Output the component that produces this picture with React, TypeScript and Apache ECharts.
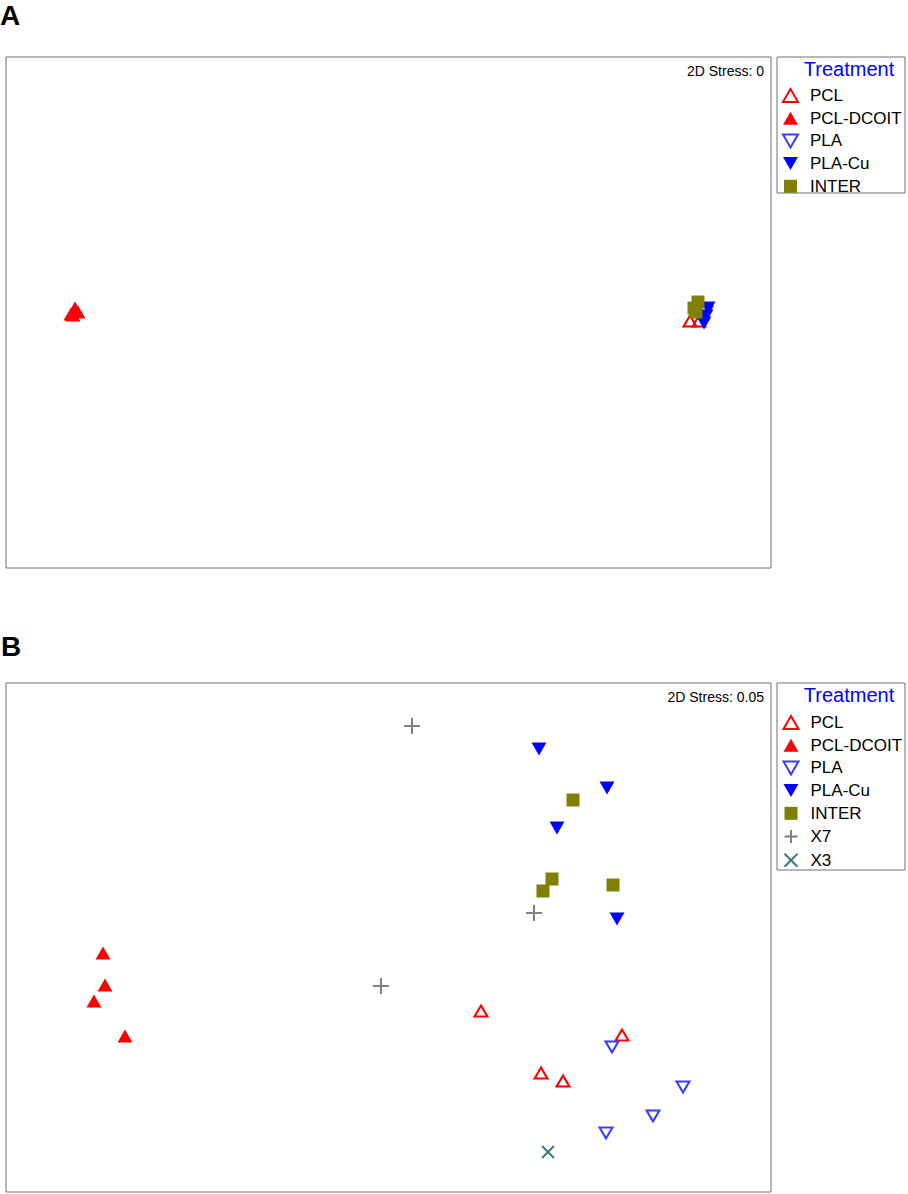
import React, { useEffect, useRef } from "react";
import * as echarts from "echarts";

// ---- Panel A (nMDS coordinates, arbitrary units) ----
const A_PCL: [number, number][] = [[684, 247], [693, 247]];
const A_PCL_DCOIT: [number, number][] = [[69, 260], [65, 254], [72, 256], [67, 253]];
const A_PLA: [number, number][] = [[696, 250], [700, 256]];
const A_PLA_CU: [number, number][] = [[702, 260], [700, 252], [698, 245]];
const A_INTER: [number, number][] = [[692, 266], [688, 260], [690, 256]];
const A_STRESS = "2D Stress: 0";

// ---- Panel B ----
const B_PCL: [number, number][] = [[475, 181], [616, 157], [535, 119], [557, 111]];
const B_PCL_DCOIT: [number, number][] = [[97, 239], [99, 207], [88, 191], [119, 156]];
const B_PLA: [number, number][] = [[606, 145], [677, 105], [647, 76], [600, 59]];
const B_PLA_CU: [number, number][] = [[533, 443], [601, 404], [551, 364], [611, 273]];
const B_INTER: [number, number][] = [[567, 392], [546, 313], [537, 301], [607, 307]];
const B_X7: [number, number][] = [[406, 466], [528, 279], [375, 206]];
const B_X3: [number, number][] = [[542, 40]];
const B_STRESS = "2D Stress: 0.05";

const LEGEND_A = ["PCL", "PCL-DCOIT", "PLA", "PLA-Cu", "INTER"];
const LEGEND_B = ["PCL", "PCL-DCOIT", "PLA", "PLA-Cu", "INTER", "X7", "X3"];

const FONT = 'Arial, "Liberation Sans", Helvetica, sans-serif';
const UP = "path://M7.5,0L15,13L0,13Z";
const DOWN = "path://M0,0L15,0L7.5,13Z";
const PLUS = "path://M0,8L16,8M8,0L8,16";
const CROSS = "path://M0,0L12,12M12,0L0,12";
const SQUARE = "path://M0,0L13,0L13,13L0,13Z";

const styles: Record<string, any> = {
  PCL: {
    symbol: UP,
    symbolSize: [13, 11],
    itemStyle: { color: "rgba(255,255,255,0)", borderColor: "#ff0000", borderWidth: 2, opacity: 1 },
    legend: { icon: UP, itemStyle: { color: "rgba(255,255,255,0)", borderColor: "#ff0000", borderWidth: 2 } },
  },
  "PCL-DCOIT": {
    symbol: UP,
    symbolSize: [15, 13],
    itemStyle: { color: "#ff0000", borderWidth: 0, opacity: 1 },
    legend: { icon: UP, itemStyle: { color: "#ff0000", borderWidth: 0 } },
  },
  PLA: {
    symbol: DOWN,
    symbolSize: [13, 11],
    itemStyle: { color: "rgba(255,255,255,0)", borderColor: "#3c3cff", borderWidth: 2, opacity: 1 },
    legend: { icon: DOWN, itemStyle: { color: "rgba(255,255,255,0)", borderColor: "#3c3cff", borderWidth: 2 } },
  },
  "PLA-Cu": {
    symbol: DOWN,
    symbolSize: [15, 13],
    itemStyle: { color: "#0000ff", borderWidth: 0, opacity: 1 },
    legend: { icon: DOWN, itemStyle: { color: "#0000ff", borderWidth: 0 } },
  },
  INTER: {
    symbol: "rect",
    symbolSize: 13,
    itemStyle: { color: "#808000", borderWidth: 0, opacity: 1 },
    legend: { icon: SQUARE, itemStyle: { color: "#808000", borderWidth: 0 } },
  },
  X7: {
    symbol: PLUS,
    symbolSize: 16,
    itemStyle: { color: "none", borderColor: "#808080", borderWidth: 2, opacity: 1 },
    legend: { icon: PLUS, itemStyle: { color: "none", borderColor: "#808080", borderWidth: 2 } },
  },
  X3: {
    symbol: CROSS,
    symbolSize: 12,
    itemStyle: { color: "none", borderColor: "#3a7a7a", borderWidth: 2, opacity: 1 },
    legend: { icon: CROSS, itemStyle: { color: "none", borderColor: "#3a7a7a", borderWidth: 2 } },
  },
};

function mkSeries(name: string, data: [number, number][], idx: number) {
  const s = styles[name];
  return {
    type: "scatter",
    name,
    xAxisIndex: idx,
    yAxisIndex: idx,
    data,
    symbol: s.symbol,
    symbolSize: s.symbolSize,
    itemStyle: s.itemStyle,
    emphasis: { disabled: true },
    silent: true,
  };
}

function mkLegend(names: string[], top: number) {
  return {
    orient: "vertical",
    left: 782,
    top,
    padding: 0,
    itemWidth: 15,
    itemHeight: 13,
    itemGap: 5.7,
    selectedMode: false,
    textStyle: { fontSize: 17, color: "#000", fontFamily: FONT, padding: [0, 0, 0, 7] },
    data: names.map((n) => ({ name: n, icon: styles[n].legend.icon, itemStyle: styles[n].legend.itemStyle })),
  };
}

const axisHidden = { show: false };

export default function App() {
  const ref = useRef<HTMLDivElement>(null);
  useEffect(() => {
    if (!ref.current) return;
    const chart = echarts.init(ref.current, undefined, { renderer: "svg" });
    const border = "#707070";
    chart.setOption({
      animation: false,
      grid: [
        { left: 6, top: 57, width: 765, height: 511, show: true, borderColor: border, borderWidth: 1, backgroundColor: "#fff" },
        { left: 6, top: 683, width: 765, height: 509, show: true, borderColor: border, borderWidth: 1, backgroundColor: "#fff" },
      ],
      xAxis: [
        { type: "value", min: 0, max: 765, gridIndex: 0, ...axisHidden },
        { type: "value", min: 0, max: 765, gridIndex: 1, ...axisHidden },
      ],
      yAxis: [
        { type: "value", min: 0, max: 511, gridIndex: 0, ...axisHidden },
        { type: "value", min: 0, max: 509, gridIndex: 1, ...axisHidden },
      ],
      legend: [mkLegend(LEGEND_A, 87), mkLegend(LEGEND_B, 714)],
      graphic: [
        { type: "rect", shape: { x: 777, y: 57, width: 128, height: 136 }, style: { fill: "none", stroke: border, lineWidth: 1 }, z: -1 },
        { type: "rect", shape: { x: 777, y: 683, width: 128, height: 187 }, style: { fill: "none", stroke: border, lineWidth: 1 }, z: -1 },
        { type: "text", x: 849, y: 69, style: { text: "Treatment", fill: "#0000ff", font: `20px ${FONT}`, textAlign: "center", textVerticalAlign: "middle" } },
        { type: "text", x: 849, y: 695, style: { text: "Treatment", fill: "#0000ff", font: `20px ${FONT}`, textAlign: "center", textVerticalAlign: "middle" } },
        { type: "text", x: 764, y: 71, style: { text: A_STRESS, fill: "#000", font: `14px ${FONT}`, textAlign: "right", textVerticalAlign: "middle" } },
        { type: "text", x: 764, y: 697, style: { text: B_STRESS, fill: "#000", font: `14px ${FONT}`, textAlign: "right", textVerticalAlign: "middle" } },
        { type: "text", x: 0, y: 15, style: { text: "A", fill: "#000", font: `bold 28px ${FONT}`, textAlign: "left", textVerticalAlign: "middle" } },
        { type: "text", x: 1, y: 646, style: { text: "B", fill: "#000", font: `bold 28px ${FONT}`, textAlign: "left", textVerticalAlign: "middle" } },
      ],
      series: [
        mkSeries("PCL", A_PCL, 0),
        mkSeries("PCL-DCOIT", A_PCL_DCOIT, 0),
        mkSeries("PLA", A_PLA, 0),
        mkSeries("PLA-Cu", A_PLA_CU, 0),
        mkSeries("INTER", A_INTER, 0),
        mkSeries("PCL", B_PCL, 1),
        mkSeries("PCL-DCOIT", B_PCL_DCOIT, 1),
        mkSeries("PLA", B_PLA, 1),
        mkSeries("PLA-Cu", B_PLA_CU, 1),
        mkSeries("INTER", B_INTER, 1),
        mkSeries("X7", B_X7, 1),
        mkSeries("X3", B_X3, 1),
      ],
    });
    return () => chart.dispose();
  }, []);
  return (
    <div
      ref={ref}
      style={{ position: "absolute", left: 0, top: 0, width: 908, height: 1194, background: "#fff" }}
    />
  );
}
